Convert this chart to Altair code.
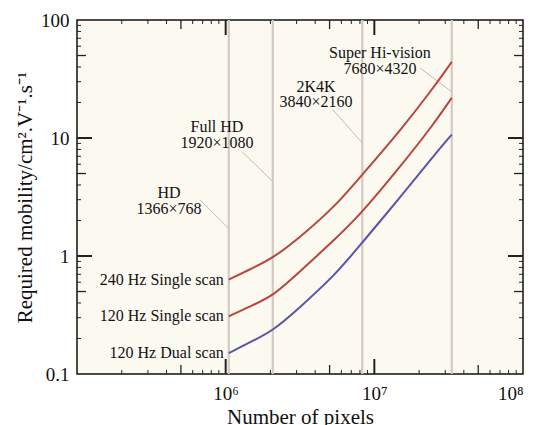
import altair as alt
import pandas as pd

# ---- data ----
pixels = [1.049e6, 1.456e6, 2.074e6, 3.16e6, 5.43e6, 8.29e6, 14.9e6, 24.4e6, 33.18e6]
mob_240_single = [0.63, 0.77, 0.955, 1.44, 2.62, 4.9, 11.5, 25.6, 44.2]
mob_120_single = [0.308, 0.375, 0.455, 0.74, 1.38, 2.34, 5.7, 12.5, 21.9]
mob_120_dual = [0.150, 0.186, 0.231, 0.368, 0.686, 1.30, 3.13, 6.8, 10.7]

series_names = ["240 Hz Single scan", "120 Hz Single scan", "120 Hz Dual scan"]
series_colors = ["#b8463d", "#b8463d", "#5956a7"]

res_pixels = [1366 * 768, 1920 * 1080, 3840 * 2160, 7680 * 4320]
res_names = ["HD", "Full HD", "2K4K", "Super Hi-vision"]
res_dims = ["1366\u00d7768", "1920\u00d71080", "3840\u00d72160", "7680\u00d74320"]

# annotation anchors (data coordinates)
name_x = [4.16e5, 8.74e5, 4.05e6, 1.09e7]
name_y = [3.45, 12.5, 27.2, 52.6]
dims_y = [2.48, 9.12, 20.3, 38.5]
lead_x1 = [6.71e5, 1.29e6, 5.27e6, 2.03e7]
lead_y1 = [3.0, 7.66, 17.3, 39.3]
lead_y2 = [1.71, 4.27, 9.1, 24.6]

x_major = [1e6, 1e7]
x_medium = [5e5, 5e6, 5e7]
x_minor = [k * 10 ** n for n in (5, 6, 7) for k in (2, 3, 4, 6, 7, 8, 9)]
y_major = [1, 10]
y_medium = [0.5, 5, 50]
y_minor = [k * 10 ** n for n in (-1, 0, 1) for k in (2, 3, 4, 6, 7, 8, 9)]

FONT = "Liberation Serif"

curves = pd.DataFrame({
    "N": pixels * 3,
    "mu": mob_240_single + mob_120_single + mob_120_dual,
    "series": sum([[s] * len(pixels) for s in series_names], []),
})
res = pd.DataFrame({"N": res_pixels, "name": res_names, "dims": res_dims,
                    "nx": name_x, "ny": name_y, "dy": dims_y,
                    "lx": lead_x1, "ly1": lead_y1, "ly2": lead_y2})
starts = curves.groupby("series", sort=False).first().reset_index()

xs = alt.Scale(type="log", domain=[1e5, 1e8], nice=False)
ys = alt.Scale(type="log", domain=[0.1, 100], nice=False)

x_axis = alt.Axis(values=[1e6, 1e7, 1e8],
                  labelExpr="datum.value == 1e6 ? '10\u2076' : datum.value == 1e7 ? '10\u2077' : '10\u2078'",
                  title="Number of pixels", grid=False, ticks=False, domain=False,
                  labelFont=FONT, labelFontSize=19, labelColor="#111", labelPadding=10,
                  titleFont=FONT, titleFontSize=21, titleFontWeight="normal",
                  titleColor="#111", titlePadding=3)
y_axis = alt.Axis(values=[0.1, 1, 10, 100],
                  labelExpr="datum.value == 0.1 ? '0.1' : format(datum.value, 'd')",
                  title="Required mobility/cm\u00b2.V\u207b\u00b9.s\u207b\u00b9", grid=False,
                  ticks=False, domain=False,
                  labelFont=FONT, labelFontSize=19, labelColor="#111", labelPadding=8,
                  titleFont=FONT, titleFontSize=21, titleFontWeight="normal",
                  titleColor="#111", titlePadding=5)


def X(field):
    return alt.X(field, scale=xs, axis=x_axis)


def Y(field):
    return alt.Y(field, scale=ys, axis=y_axis)


vlines = alt.Chart(res).mark_rule(color="#d3c9c1", strokeWidth=2.2).encode(x=X("N:Q"))

leaders = alt.Chart(res).mark_rule(color="#c4bbb4", strokeWidth=1).encode(
    x=X("lx:Q"), x2="N:Q", y=Y("ly1:Q"), y2="ly2:Q")

lines = alt.Chart(curves).mark_line(strokeWidth=2, interpolate="basis").encode(
    x=X("N:Q"), y=Y("mu:Q"),
    color=alt.Color("series:N", scale=alt.Scale(domain=series_names, range=series_colors), legend=None),
    detail="series:N",
)

name_text = alt.Chart(res).mark_text(font=FONT, fontSize=16, color="#111").encode(
    x=X("nx:Q"), y=Y("ny:Q"), text="name:N")
dims_text = alt.Chart(res).mark_text(font=FONT, fontSize=16, color="#111").encode(
    x=X("nx:Q"), y=Y("dy:Q"), text="dims:N")

series_text = alt.Chart(starts).mark_text(font=FONT, fontSize=16, color="#111", align="right", dx=-5).encode(
    x=X("N:Q"), y=Y("mu:Q"), text="series:N")


def xticks(vals, length, width):
    df = pd.DataFrame({"v": vals})
    bot = alt.Chart(df).mark_rule(color="#222", strokeWidth=width, y2Offset=-length).encode(
        x=X("v:Q"), y=alt.YDatum(0.1, scale=ys, axis=y_axis), y2=alt.datum(0.1))
    top = alt.Chart(df).mark_rule(color="#222", strokeWidth=width, y2Offset=length).encode(
        x=X("v:Q"), y=alt.YDatum(100, scale=ys, axis=y_axis), y2=alt.datum(100))
    return [bot, top]


def yticks(vals, length, width):
    df = pd.DataFrame({"v": vals})
    left = alt.Chart(df).mark_rule(color="#222", strokeWidth=width, x2Offset=length).encode(
        y=Y("v:Q"), x=alt.XDatum(1e5, scale=xs, axis=x_axis), x2=alt.datum(1e5))
    right = alt.Chart(df).mark_rule(color="#222", strokeWidth=width, x2Offset=-length).encode(
        y=Y("v:Q"), x=alt.XDatum(1e8, scale=xs, axis=x_axis), x2=alt.datum(1e8))
    return [left, right]


tick_layers = (xticks(x_minor, 4, 1) + xticks(x_medium, 9, 1.3) + xticks(x_major, 15, 2)
               + yticks(y_minor, 4, 1) + yticks(y_medium, 9, 1.3) + yticks(y_major, 15, 2))

chart = alt.layer(vlines, leaders, *tick_layers, lines, name_text, dims_text, series_text).properties(
    width=446, height=354,
    padding={"left": 77, "top": 20, "right": 19, "bottom": 51},
    autosize=alt.AutoSizeParams(type="none"),
    background="white",
).configure_view(fill="#fcf9f1", stroke="#111", strokeWidth=1.5)

chart.save("out.html", embed_options={"renderer": "svg", "actions": False})
